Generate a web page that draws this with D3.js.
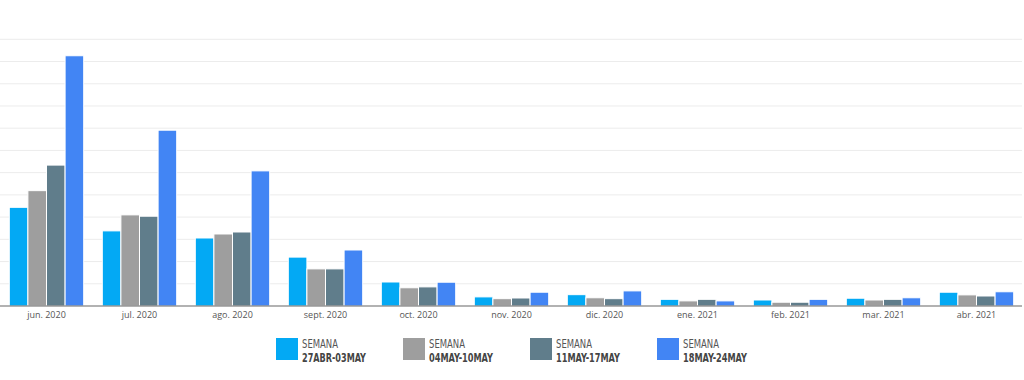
<!DOCTYPE html>
<html><head><meta charset="utf-8">
<script src="https://cdn.jsdelivr.net/npm/d3@7"></script>
<style>body{margin:0;background:#fff}svg{display:block}</style>
</head><body>
<script>
const categories = ["jun. 2020","jul. 2020","ago. 2020","sept. 2020","oct. 2020","nov. 2020","dic. 2020","ene. 2021","feb. 2021","mar. 2021","abr. 2021"];
const seriesNames = [["SEMANA","27ABR-03MAY"],["SEMANA","04MAY-10MAY"],["SEMANA","11MAY-17MAY"],["SEMANA","18MAY-24MAY"]];
const s1 = [4.44,3.38,3.06,2.20,1.08,0.41,0.51,0.30,0.27,0.35,0.62];
const s2 = [5.19,4.10,3.24,1.67,0.82,0.33,0.37,0.23,0.17,0.27,0.50];
const s3 = [6.34,4.04,3.33,1.67,0.86,0.36,0.33,0.30,0.17,0.30,0.45];
const s4 = [11.26,7.91,6.08,2.52,1.07,0.62,0.68,0.23,0.30,0.37,0.64];
const gridTicks = [0,1,2,3,4,5,6,7,8,9,10,11,12];
const colors = ["#03A9F4","#9E9E9E","#607D8B","#4285F4"];
const series = [s1,s2,s3,s4];

const W=1024,H=380;
const svg=d3.select("body").append("svg").attr("width",W).attr("height",H);
const x=d3.scaleBand().domain(categories).range([0,1023]).paddingInner(0.2).paddingOuter(0.1);
const y=d3.scaleLinear().domain([0,12]).range([306,39.3]);
const xs=d3.scaleBand().domain(d3.range(4)).range([0,x.bandwidth()]);

svg.append("g").selectAll("line").data(gridTicks.slice(1)).join("line")
  .attr("x1",0).attr("x2",1022).attr("y1",d=>y(d)).attr("y2",d=>y(d))
  .attr("stroke","#ececec").attr("stroke-width",1);

const g=svg.append("g");
categories.forEach((c,i)=>{
  series.forEach((s,k)=>{
    g.append("rect").attr("x",x(c)+xs(k)).attr("y",y(s[i]))
     .attr("width",xs.bandwidth()).attr("height",y(0)-y(s[i]))
     .attr("fill",colors[k]).attr("stroke","#fff").attr("stroke-width",1);
  });
});

const ax=svg.append("g").attr("transform","translate(0,306)")
  .call(d3.axisBottom(x).tickSize(0).tickPadding(6));
ax.select(".domain").attr("stroke","#666").attr("stroke-width",1.2).attr("d","M0,0H1022");
ax.selectAll("text").attr("font-family","'Open Sans',sans-serif").attr("font-size",9).attr("fill","#555");

const lg=svg.append("g");
seriesNames.forEach((n,k)=>{
  const lx=276+k*127;
  lg.append("rect").attr("x",lx).attr("y",338).attr("width",22).attr("height",22).attr("fill",colors[k]);
  lg.append("text").attr("x",lx+26).attr("y",347.5).text(n[0])
    .attr("font-family","'Liberation Sans Narrow','DejaVu Sans Condensed',sans-serif")
    .attr("font-size",11.5).attr("fill","#555").attr("textLength",36).attr("lengthAdjust","spacingAndGlyphs");
  lg.append("text").attr("x",lx+26).attr("y",361.5).text(n[1])
    .attr("font-family","'Liberation Sans Narrow','DejaVu Sans Condensed',sans-serif")
    .attr("font-weight","bold").attr("font-size",12).attr("fill","#444").attr("textLength",64).attr("lengthAdjust","spacingAndGlyphs");
});
</script>
</body></html>
